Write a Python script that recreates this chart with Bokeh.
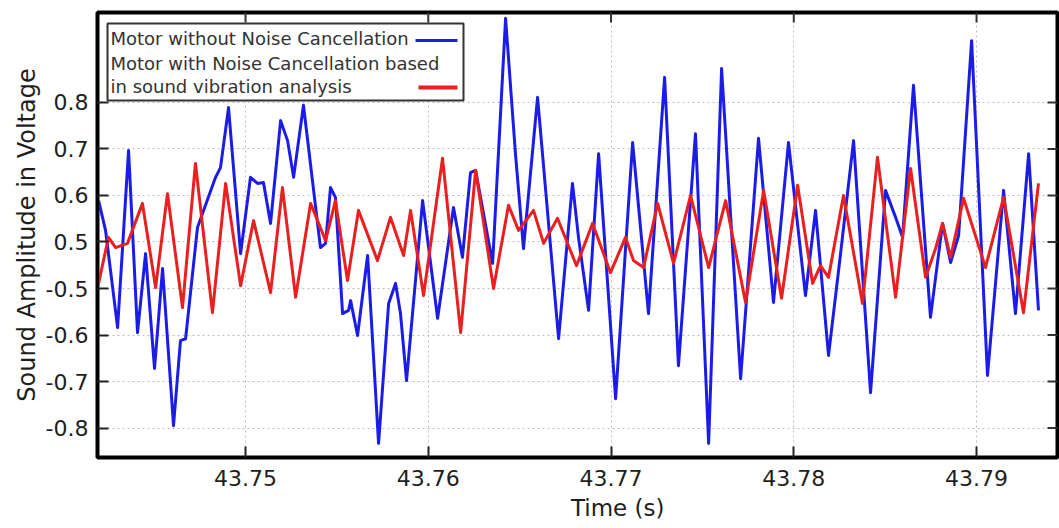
from bokeh.plotting import figure
from bokeh.models import Range1d, FixedTicker
from bokeh.core.properties import value
from bokeh.embed import file_html
from bokeh.resources import INLINE

# ---- data (time in s, amplitude in axis position units; tick labels below) ----
t_without = [43.74196, 43.74234, 43.74300, 43.74360, 43.74409, 43.74453, 43.74502, 43.74546,
             43.74606, 43.74644, 43.74672, 43.74737, 43.74836, 43.74863, 43.74907, 43.74973,
             43.75027, 43.75066, 43.75098, 43.75137, 43.75192, 43.75230, 43.75263, 43.75317,
             43.75410, 43.75438, 43.75465, 43.75492, 43.75531, 43.75564, 43.75575, 43.75613,
             43.75668, 43.75728, 43.75783, 43.75821, 43.75848, 43.75881, 43.75969, 43.76051,
             43.76138, 43.76187, 43.76231, 43.76259, 43.76352, 43.76423, 43.76477, 43.76521,
             43.76598, 43.76713, 43.76789, 43.76822, 43.76877, 43.76932, 43.77025, 43.77118,
             43.77205, 43.77293, 43.77369, 43.77462, 43.77534, 43.77605, 43.77709, 43.77807,
             43.77889, 43.77971, 43.78064, 43.78119, 43.78190, 43.78256, 43.78327, 43.78420,
             43.78502, 43.78557, 43.78595, 43.78655, 43.78748, 43.78814, 43.78858, 43.78902,
             43.78973, 43.79060, 43.79148, 43.79213, 43.79285, 43.79339]
v_without = [0.589, 0.525, 0.316, 0.697, 0.305, 0.475, 0.228, 0.443,
             0.105, 0.288, 0.292, 0.531, 0.639, 0.660, 0.789, 0.475,
             0.639, 0.626, 0.628, 0.540, 0.761, 0.718, 0.639, 0.794,
             0.488, 0.497, 0.617, 0.596, 0.346, 0.353, 0.374, 0.299,
             0.471, 0.067, 0.368, 0.411, 0.346, 0.202, 0.589, 0.336,
             0.574, 0.467, 0.649, 0.654, 0.454, 0.981, 0.690, 0.486,
             0.811, 0.292, 0.626, 0.510, 0.353, 0.690, 0.163, 0.714,
             0.346, 0.854, 0.234, 0.733, 0.067, 0.873, 0.206, 0.723,
             0.370, 0.714, 0.385, 0.568, 0.256, 0.475, 0.718, 0.176,
             0.611, 0.553, 0.510, 0.837, 0.338, 0.540, 0.456, 0.514,
             0.933, 0.213, 0.611, 0.346, 0.690, 0.353]

t_with = [43.74196, 43.74250, 43.74289, 43.74354, 43.74436, 43.74508, 43.74573, 43.74655,
          43.74726, 43.74819, 43.74891, 43.74973, 43.75044, 43.75137, 43.75202, 43.75274,
          43.75356, 43.75438, 43.75492, 43.75558, 43.75618, 43.75722, 43.75793, 43.75865,
          43.75903, 43.75974, 43.76078, 43.76177, 43.76259, 43.76357, 43.76439, 43.76494,
          43.76576, 43.76631, 43.76707, 43.76811, 43.76899, 43.76997, 43.77079, 43.77123,
          43.77178, 43.77255, 43.77342, 43.77435, 43.77534, 43.77627, 43.77736, 43.77835,
          43.77933, 43.78021, 43.78103, 43.78146, 43.78190, 43.78272, 43.78376, 43.78458,
          43.78557, 43.78639, 43.78721, 43.78776, 43.78814, 43.78858, 43.78929, 43.79049,
          43.79148, 43.79257, 43.79339]
v_with = [0.411, 0.510, 0.488, 0.497, 0.583, 0.402, 0.604, 0.359,
          0.669, 0.348, 0.626, 0.406, 0.546, 0.391, 0.617, 0.381,
          0.583, 0.503, 0.589, 0.417, 0.568, 0.460, 0.553, 0.471,
          0.568, 0.385, 0.680, 0.305, 0.654, 0.400, 0.579, 0.525,
          0.568, 0.497, 0.551, 0.449, 0.540, 0.434, 0.510, 0.460,
          0.445, 0.583, 0.454, 0.600, 0.445, 0.589, 0.370, 0.611,
          0.379, 0.622, 0.411, 0.449, 0.424, 0.600, 0.368, 0.682,
          0.381, 0.658, 0.424, 0.486, 0.540, 0.467, 0.594, 0.445,
          0.596, 0.348, 0.626]

xtick_pos = [43.75, 43.76, 43.77, 43.78, 43.79]
xtick_labels = ["43.75", "43.76", "43.77", "43.78", "43.79"]
ytick_pos = [0.8, 0.7, 0.6, 0.5, 0.4, 0.3, 0.2, 0.1]
ytick_labels = ["0.8", "0.7", "0.6", "0.5", "-0.5", "-0.6", "-0.7", "-0.8"]

series_names = ["Motor without Noise Cancellation",
                "Motor with Noise Cancellation based",
                "in sound vibration analysis"]
x_title = "Time (s)"
y_title = "Sound Amplitude in Voltage"

# ---- layout ----
W, H = 1059, 528
FL, FR, FT, FB = 97, 1057, 12, 457
X0, X1 = 43.74190, 43.79443
Y0, Y1 = 0.0366, 0.9935
FONT = "DejaVu Sans"
BLUE = "#1c1ce8"
RED = "#ea1f1f"
TXT = "#1e1e1e"
X_TITLE_PAD = "\u00a0" * 11   # shifts the centred title right, as in the reference


def px_x(px):
    return X0 + (px - FL) * (X1 - X0) / (FR - FL)


def px_y(py):
    return Y1 - (py - FT) * (Y1 - Y0) / (FB - FT)


p = figure(width=W, height=H, output_backend="svg", toolbar_location=None,
           x_range=Range1d(X0, X1), y_range=Range1d(Y0, Y1),
           min_border_left=FL, min_border_right=W - FR,
           min_border_top=FT, min_border_bottom=H - FB)
p.background_fill_color = "white"
p.border_fill_color = "white"
p.outline_line_color = "black"
p.outline_line_width = 4

for ax in (p.xaxis[0], p.yaxis[0]):
    ax.major_tick_in = 11
    ax.major_tick_out = 0
    ax.minor_tick_in = 0
    ax.minor_tick_out = 0
    ax.major_tick_line_color = "#222222"
    ax.major_tick_line_width = 2
    ax.axis_line_color = "black"
    ax.axis_line_width = 3
    ax.major_label_text_font = FONT
    ax.major_label_text_font_size = "22px"
    ax.major_label_text_color = TXT
    ax.axis_label_text_font = FONT
    ax.axis_label_text_font_size = "24px"
    ax.axis_label_text_font_style = "normal"
    ax.axis_label_text_color = TXT

p.xaxis[0].ticker = FixedTicker(ticks=xtick_pos)
p.xaxis[0].major_label_overrides = dict(zip(xtick_pos, xtick_labels))
p.xaxis[0].major_label_standoff = 12
p.xaxis[0].axis_label = X_TITLE_PAD + x_title
p.xaxis[0].axis_label_text_font_size = "23px"
p.xaxis[0].axis_label_standoff = 6

p.yaxis[0].ticker = FixedTicker(ticks=ytick_pos)
p.yaxis[0].major_label_overrides = dict(zip(ytick_pos, ytick_labels))
p.yaxis[0].major_label_standoff = 9
p.yaxis[0].axis_label = y_title
p.yaxis[0].axis_label_standoff = 2

p.xgrid.ticker = FixedTicker(ticks=xtick_pos)
p.ygrid.ticker = FixedTicker(ticks=ytick_pos)
for g in (p.xgrid[0], p.ygrid[0]):
    g.grid_line_color = "#bcbcbc"
    g.grid_line_width = 1
    g.grid_line_dash = "2 3"

# inward tick marks on the top and right frame edges
p.segment(x0=xtick_pos, y0=[Y1] * len(xtick_pos), x1=xtick_pos,
          y1=[px_y(FT + 10)] * len(xtick_pos), line_color="#333333", line_width=2)
p.segment(x0=[px_x(FR - 10)] * len(ytick_pos), y0=ytick_pos, x1=[X1] * len(ytick_pos),
          y1=ytick_pos, line_color="#333333", line_width=2)

# ---- series ----
p.line(t_without, v_without, line_color=BLUE, line_width=3, line_join="round")
p.line(t_with, v_with, line_color=RED, line_width=3, line_join="round")

# ---- legend (label then line sample, as in the reference) ----
p.quad(left=[px_x(107)], right=[px_x(463)], top=[px_y(23)], bottom=[px_y(100)],
       fill_color="white", line_color="#333333", line_width=2)
p.text(x=[px_x(110)] * 3, y=[px_y(38), px_y(63), px_y(86)], text=series_names,
       text_font=value(FONT), text_font_size="18px", text_color="#333333",
       text_baseline="middle", text_align="left")
p.segment(x0=[px_x(415)], y0=[px_y(40)], x1=[px_x(457)], y1=[px_y(40)],
          line_color=BLUE, line_width=3)
p.segment(x0=[px_x(418)], y0=[px_y(87)], x1=[px_x(457)], y1=[px_y(87)],
          line_color=RED, line_width=4)

open("out.html", "w").write(file_html(p, INLINE))
